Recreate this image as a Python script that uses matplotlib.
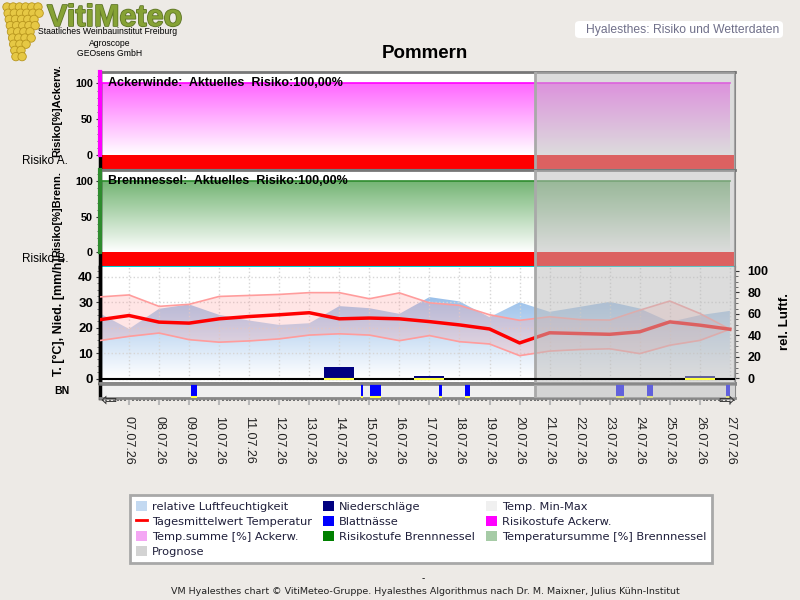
import numpy as np
import matplotlib
matplotlib.use("Agg")
import matplotlib.pyplot as plt
from matplotlib.colors import LinearSegmentedColormap
from matplotlib.patches import Patch, Circle, FancyBboxPatch
from matplotlib.lines import Line2D
import matplotlib.patheffects as pe

plt.rcParams['font.family'] = ['Liberation Sans', 'DejaVu Sans']

# Tageswerte 06.07.26 - 27.07.26
dates = ['06.07.26', '07.07.26', '08.07.26', '09.07.26', '10.07.26', '11.07.26',
         '12.07.26', '13.07.26', '14.07.26', '15.07.26', '16.07.26', '17.07.26',
         '18.07.26', '19.07.26', '20.07.26', '21.07.26', '22.07.26', '23.07.26',
         '24.07.26', '25.07.26', '26.07.26', '27.07.26']
temp_max = [32.1, 32.9, 28.4, 29.2, 32.3, 32.7, 33.1, 33.8, 33.8, 31.4, 33.7,
            29.8, 28.8, 25.1, 22.9, 24.3, 23.2, 23.0, 26.9, 30.5, 25.6, 19.4]
temp_mittel = [23.1, 24.8, 22.2, 21.8, 23.5, 24.4, 25.1, 25.9, 23.5, 23.8, 23.5,
               22.4, 21.1, 19.5, 14.0, 18.0, 17.7, 17.4, 18.4, 22.3, 21.0, 19.4]
temp_min = [14.9, 16.6, 17.9, 15.3, 14.3, 14.8, 15.6, 17.1, 17.6, 17.1, 14.9,
            16.9, 14.5, 13.6, 9.0, 10.8, 11.4, 11.7, 9.8, 13.1, 15.0, 19.4]
luftfeuchte = [61.0, 46.1, 64.8, 68.9, 59.2, 53.9, 49.8, 51.4, 67.3, 65.4, 60.1,
               75.7, 71.7, 57.0, 70.9, 62.0, 66.6, 71.3, 65.1, 52.6, 58.9, 62.9]
niederschlag = [0, 0, 0, 0, 0, 0, 0, 0, 4.7, 0, 0,
                1.1, 0, 0, 0, 0, 0, 0, 0, 0, 0.8, 0]

# Blattnaesse: Tag (Index), Startstunde, Dauer in Stunden
bn_tag = [3, 8, 9, 11, 12, 17, 18, 20]
bn_stunde = [1.5, 17.3, 0.5, 7.7, 4.3, 5.0, 5.8, 20.9]
bn_dauer = [4.5, 1.6, 8.8, 2.2, 4.0, 6.4, 4.8, 3.2]

# Risiko
tempsumme_acker = [100] * 22
tempsumme_brenn = [100] * 22
stufe_acker = [3] * 22
stufe_brenn = [3] * 22
risiko_acker = 100.0
risiko_brenn = 100.0
stufe_farben = {1: '#00C000', 2: '#FFD700', 3: '#FF0000'}

prognose_ab = 14 + 12 / 24   # 20.07. 12:00

BG = '#EDEAE6'
x = np.arange(len(dates))

fig = plt.figure(figsize=(8, 6), dpi=100, facecolor=BG)

L, W = 100 / 800, 635 / 800
axA = fig.add_axes([L, 1 - 170 / 600, W, 98 / 600])
axB = fig.add_axes([L, 1 - 267 / 600, W, 97 / 600], sharex=axA)
axW = fig.add_axes([L, 1 - 383 / 600, W, 116 / 600], sharex=axA)
axH = axW.twinx()
axBN = fig.add_axes([L, 1 - 398 / 600, W, 14 / 600], sharex=axA)


def grad_fill(ax, xs, ys, c_top, zorder=1):
    poly = ax.fill_between(xs, 0, ys, facecolor='none', edgecolor='none')
    cmap = LinearSegmentedColormap.from_list('g', ['white', c_top])
    img = ax.imshow(np.linspace(0, 1, 256).reshape(-1, 1), cmap=cmap, aspect='auto',
                    origin='lower', extent=[xs[0], xs[-1], 0, max(ys)],
                    interpolation='bicubic', zorder=zorder)
    img.set_clip_path(poly.get_paths()[0], transform=ax.transData)


def risk_panel(ax, tempsumme, stufe, c_line, c_top, name, risiko):
    ylo, yhi = -21, 116
    ax.set_ylim(ylo, yhi)
    grad_fill(ax, x, tempsumme, c_top)
    ax.plot(x, tempsumme, color=c_line, lw=1.2, zorder=3)
    ax.bar(x, ylo, width=1.0, color=[stufe_farben[s] for s in stufe],
           lw=0, antialiased=False, zorder=2)
    ax.set_yticks([0, 50, 100])
    ax.set_yticklabels(['0', '50', '100'], fontsize=7.8, fontweight='bold')
    ax.set_yticks(np.arange(0, 111, 10), minor=True)
    ax.tick_params(axis='y', which='major', length=3, color='#333', pad=2)
    ax.tick_params(axis='y', which='minor', length=2, color='#555')
    ax.tick_params(axis='x', which='both', bottom=False, labelbottom=False)
    ax.spines['top'].set_color('#777777')
    ax.spines['top'].set_linewidth(2)
    ax.spines['right'].set_color('#888888')
    ax.spines['right'].set_linewidth(1.5)
    ax.spines['bottom'].set_color('#00CED1')
    ax.spines['bottom'].set_linewidth(1.5)
    ax.spines['left'].set_color('black')
    ax.spines['left'].set_linewidth(2.5)
    f0 = (0 - ylo) / (yhi - ylo)
    ax.plot([0, 0], [f0, 1], transform=ax.transAxes, color=c_line, lw=3,
            clip_on=False, zorder=20)
    wert = f'{risiko:.2f}'.replace('.', ',')
    ax.text(0.0126, 0.885, f'{name}:  Aktuelles  Risiko:{wert}%', transform=ax.transAxes,
            fontsize=9, fontweight='bold', va='center', ha='left', zorder=15)


risk_panel(axA, tempsumme_acker, stufe_acker, '#FF00FF', '#FF66FF', 'Ackerwinde', risiko_acker)
risk_panel(axB, tempsumme_brenn, stufe_brenn, '#2E8B2E', '#74B574', 'Brennnessel', risiko_brenn)

# Wetter
axW.set_zorder(axH.get_zorder() + 1)
axW.patch.set_visible(False)
axH.patch.set_visible(True)
axH.patch.set_facecolor('white')

axW.set_ylim(-1.77, 43.9)
axH.set_ylim(-4.2, 103.7)

grad_fill(axH, x, luftfeuchte, '#98BFEA')

axW.fill_between(x, temp_min, temp_max, color='#FF9999', alpha=0.25, lw=0, zorder=2)
axW.plot(x, temp_max, color='#FF9C9C', lw=1.2, zorder=3)
axW.plot(x, temp_min, color='#FF9C9C', lw=1.2, zorder=3)
axW.bar(x, niederschlag, width=1.0, color='#000080', lw=0, zorder=4)
axW.plot(x, temp_mittel, color='#FF0000', lw=2.5, zorder=5)
axW.axhline(0, color='black', lw=1.5, zorder=12)
for xi, v in zip(x, niederschlag):
    if v > 0:
        axW.hlines(0, xi - 0.5, xi + 0.5, color='#FFFF40', lw=1.5, zorder=13)

axW.grid(True, color='#D6D6D6', ls=':', lw=1)
axW.set_yticks([0, 10, 20, 30, 40])
axW.set_yticklabels(['0', '10', '20', '30', '40'], fontsize=9.5, fontweight='bold')
axW.set_yticks(np.arange(0, 43, 2.5), minor=True)
axW.tick_params(axis='y', which='major', length=3, color='#333', pad=2)
axW.tick_params(axis='y', which='minor', length=2, color='#555')
axW.tick_params(axis='x', which='both', bottom=False, labelbottom=False)
axH.set_yticks([0, 20, 40, 60, 80, 100])
axH.set_yticklabels(['0', '20', '40', '60', '80', '100'], fontsize=9, fontweight='bold')
axH.set_yticks(np.arange(0, 101, 5), minor=True)
axH.tick_params(axis='y', which='major', length=3, color='#333', pad=6)
axH.tick_params(axis='y', which='minor', length=2, color='#555')
for a in (axW, axH):
    a.spines['top'].set_visible(False)
    a.spines['right'].set_color('#888888')
    a.spines['right'].set_linewidth(1.5)
    a.spines['bottom'].set_color('#888888')
    a.spines['bottom'].set_linewidth(2)
    a.spines['left'].set_color('black')
    a.spines['left'].set_linewidth(2.5)

# Blattnaesse
axBN.set_facecolor('#F0F0F0')
axBN.set_ylim(0, 1)
bn_x = [t + s / 24 for t, s in zip(bn_tag, bn_stunde)]
bn_w = [d / 24 for d in bn_dauer]
axBN.bar(bn_x, 1, width=bn_w, align='edge', color='#0000FF', lw=0, zorder=3)
for bx, bw in zip(bn_x, bn_w):
    axBN.hlines(0.06, bx, bx + bw, color='#FFFF40', lw=1.5, zorder=4)
axBN.set_yticks([])
axBN.spines['top'].set_color('#888888')
axBN.spines['top'].set_linewidth(2)
axBN.spines['bottom'].set_color('#888888')
axBN.spines['bottom'].set_linewidth(2)
axBN.spines['right'].set_color('#888888')
axBN.spines['left'].set_color('black')
axBN.spines['left'].set_linewidth(2.5)
axBN.set_xticks(x[1:])
axBN.set_xticklabels(dates[1:], rotation=270, fontsize=9, color='#222222')
axBN.set_xticks(np.arange(0, 21.2, 1 / 8), minor=True)
axBN.tick_params(axis='x', which='major', length=5, width=1.5, color='#B8B8B8', pad=8)
axBN.tick_params(axis='x', which='minor', length=2.5, width=1.5, color='#707070')
axBN.text(0.0, -0.2, '\u21e6', transform=axBN.transAxes, fontsize=14,
          family='DejaVu Sans', ha='left', va='center', color='#333', zorder=20)
axBN.text(1.0, -0.2, '\u21e8', transform=axBN.transAxes, fontsize=14,
          family='DejaVu Sans', ha='right', va='center', color='#333', zorder=20)

# Prognose
for a in (axA, axB, axW, axBN):
    a.axvspan(prognose_ab, x[-1] + 1, color='#BCBCBC', alpha=0.52, lw=0, zorder=10)
    a.axvline(prognose_ab, color='#A9A9A9', lw=2, zorder=11)

axA.set_xlim(0.035, 21.17)

# Beschriftungen
fig.text(425 / 800, 1 - 53 / 600, 'Pommern', ha='center', va='center',
         fontsize=13.5, fontweight='bold')
fig.text(68 / 800, 1 - 161 / 600, 'Risiko A.', ha='right', va='center', fontsize=8.5)
fig.text(68 / 800, 1 - 259 / 600, 'Risiko B.', ha='right', va='center', fontsize=8.5)
fig.text(57 / 800, 1 - 111 / 600, 'Risiko[%]Ackerw.', rotation=90, ha='center',
         va='center', fontsize=8, fontweight='bold')
fig.text(57 / 800, 1 - 214 / 600, 'Risiko[%]Brenn.', rotation=90, ha='center',
         va='center', fontsize=8, fontweight='bold')
fig.text(59 / 800, 1 - 317 / 600, 'T. [°C], Nied. [mm/h]', rotation=90, ha='center',
         va='center', fontsize=9, fontweight='bold')
fig.text(62 / 800, 1 - 391 / 600, 'BN', ha='center', va='center', fontsize=7.5,
         fontweight='bold')
fig.text(785 / 800, 1 - 321 / 600, 'rel. Luftf.', rotation=90, ha='center',
         va='center', fontsize=9.5, fontweight='bold')

# Kopf rechts
fig.patches.append(FancyBboxPatch((575 / 800, 1 - 38 / 600), 208 / 800, 17 / 600,
                                  boxstyle='round,pad=0,rounding_size=0.006',
                                  transform=fig.transFigure, fc='white', ec='none'))
fig.text(586 / 800, 1 - 29.5 / 600, 'Hyalesthes: Risiko und Wetterdaten', ha='left',
         va='center', fontsize=8.7, color='#70708A')

# Logo
axLogo = fig.add_axes([0, 1 - 64 / 600, 50 / 800, 64 / 600])
axLogo.set_xlim(0, 50)
axLogo.set_ylim(64, 0)
axLogo.axis('off')
for r in range(9):
    cy = 7 + r * 6.2
    half = 18 * (1 - r / 10.5)
    cx = 25 - r * 0.6
    for gx in np.arange(cx - half, cx + half + 0.1, 6.2):
        axLogo.add_patch(Circle((gx, cy), 4.2, fc='#E6C844', ec='#B8961E', lw=0.6))
fig.text(47 / 800, 1 - 26 / 600, 'VitiMeteo', ha='left', va='baseline', fontsize=22,
         fontweight='bold', color='#86A235',
         path_effects=[pe.withStroke(linewidth=1.2, foreground='#5E7526')])
fig.text(108 / 800, 1 - 32 / 600, 'Staatliches Weinbauinstitut Freiburg', ha='center',
         va='center', fontsize=6.2)
fig.text(110 / 800, 1 - 43 / 600, 'Agroscope', ha='center', va='center', fontsize=6.2)
fig.text(110 / 800, 1 - 54 / 600, 'GEOsens GmbH', ha='center', va='center', fontsize=6.2)

# Legende
handles = [
    Patch(fc='#C3D9F1', ec='none'),
    Line2D([], [], color='#FF0000', lw=2),
    Patch(fc='#F4A6F4', ec='none'),
    Patch(fc='#D3D3D3', ec='none'),
    Patch(fc='#000080', ec='none'),
    Patch(fc='#0000FF', ec='none'),
    Patch(fc='#008000', ec='none'),
    Patch(fc='#F0F0F0', ec='none'),
    Patch(fc='#FF00FF', ec='none'),
    Patch(fc='#A6CBA6', ec='none'),
]
labels = ['relative Luftfeuchtigkeit', 'Tagesmittelwert Temperatur', 'Temp.summe [%] Ackerw.',
          'Prognose', 'Niederschläge', 'Blattnässe', 'Risikostufe Brennnessel',
          'Temp. Min-Max', 'Risikostufe Ackerw.', 'Temperatursumme [%] Brennnessel']
leg = fig.legend(handles, labels, ncol=3, loc='upper left', mode='expand',
                 bbox_to_anchor=(130 / 800, 1 - 563 / 600, 582 / 800, 68 / 600),
                 bbox_transform=fig.transFigure, borderaxespad=0,
                 prop={'family': 'DejaVu Sans', 'size': 8.2},
                 handlelength=1.0, handleheight=1.0, handletextpad=0.4,
                 labelspacing=0.36, borderpad=0.5, columnspacing=0.8,
                 fancybox=False, framealpha=1, edgecolor='#A8A8A8',
                 labelcolor='#1E1E3A')
leg.get_frame().set_linewidth(2)

# Fusszeile
fig.text(423 / 800, 1 - 578 / 600, '-', ha='center', va='center', fontsize=7)
fig.text(425 / 800, 1 - 591 / 600,
         'VM Hyalesthes chart © VitiMeteo-Gruppe. Hyalesthes Algorithmus nach Dr. M. Maixner, Julius Kühn-Institut',
         ha='center', va='center', fontsize=6.8, family='DejaVu Sans', color='#222222')

fig.savefig('out.png', dpi=100, facecolor=BG)
